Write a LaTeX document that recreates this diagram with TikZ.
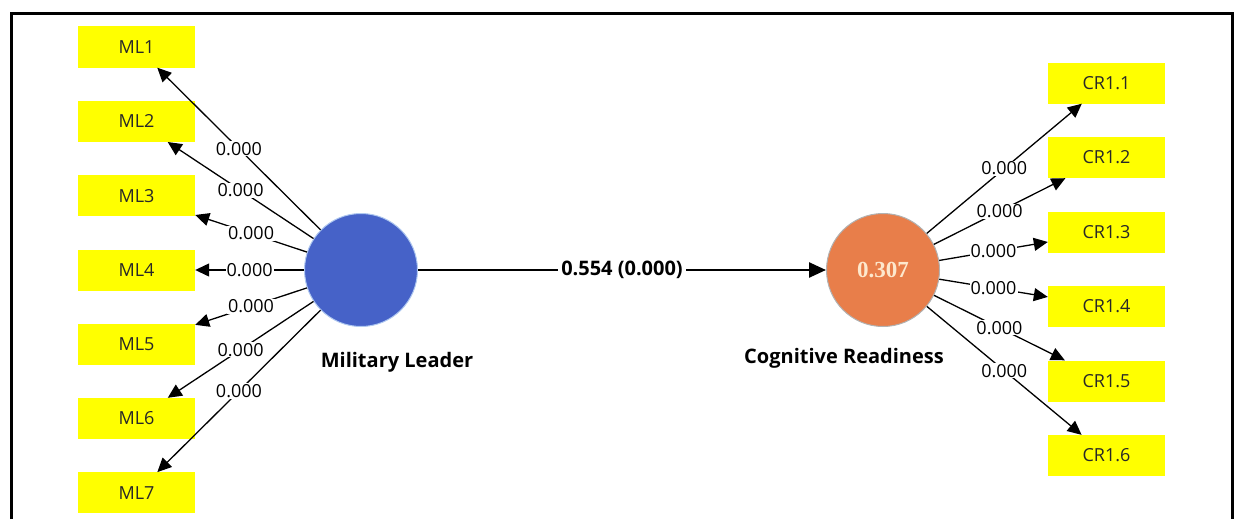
\documentclass[tikz,border=0pt]{standalone}
\usepackage{fontspec}
\setmainfont{Open Sans}
\newfontfamily\cifrafont{Liberation Serif}
\usetikzlibrary{arrows.meta}

\definecolor{azulml}{RGB}{70,98,200}
\definecolor{bordeml}{RGB}{175,200,240}
\definecolor{naranjacr}{RGB}{232,126,74}
\definecolor{amarillo}{RGB}{255,255,0}
\definecolor{crema}{RGB}{253,232,205}
\definecolor{textobox}{RGB}{40,40,40}

\begin{document}
\begin{tikzpicture}[
        x=1pt, y=-1pt,
        indicador/.style={
            rectangle,
            fill=amarillo,
            text=textobox,
            minimum width=117pt,
            minimum height=41pt,
            inner sep=0pt,
            font=\fontsize{18}{21}\selectfont
        },
        constructo/.style={
            circle,
            minimum size=113pt,
            inner sep=0pt,
            line width=1pt
        },
        nombre/.style={
            font=\fontsize{20}{24}\selectfont\bfseries,
            text=black
        },
        carga/.style={
            line width=1.3pt,
            -{Triangle[length=14pt,width=13pt]}
        },
        valor/.style={
            fill=white,
            inner sep=1pt,
            font=\fontsize{18}{21}\selectfont
        }
    ]
    \useasboundingbox (0,0) rectangle (1238,519);

    % Marco
    \draw[line width=3pt] (11,519) -- (11,14) -- (1232,14) -- (1232,519);

    % Constructos
    \node[constructo, fill=azulml, draw=bordeml] (ml) at (361,270) {};
    \node[constructo, fill=naranjacr, draw=gray!60,
          text=crema, font=\cifrafont\fontsize{23}{26}\selectfont\bfseries] (cr) at (883,270) {0.307};
    \node[nombre] (mlname) at (397,362) {Military Leader};
    \node[nombre] (crname) at (844,358) {Cognitive Readiness};

    % Indicadores
    \node[indicador] (ml1) at (136.5,47)    {ML1};
    \node[indicador] (ml2) at (136.5,121.3) {ML2};
    \node[indicador] (ml3) at (136.5,195.6) {ML3};
    \node[indicador] (ml4) at (136.5,270)   {ML4};
    \node[indicador] (ml5) at (136.5,344.2) {ML5};
    \node[indicador] (ml6) at (136.5,418.5) {ML6};
    \node[indicador] (ml7) at (136.5,492.8) {ML7};

    \node[indicador] (cr1) at (1106.5,83)    {CR1.1};
    \node[indicador] (cr2) at (1106.5,157.5) {CR1.2};
    \node[indicador] (cr3) at (1106.5,232)   {CR1.3};
    \node[indicador] (cr4) at (1106.5,306.5) {CR1.4};
    \node[indicador] (cr5) at (1106.5,381)   {CR1.5};
    \node[indicador] (cr6) at (1106.5,455.5) {CR1.6};

    % Cargas
    \draw[carga] (ml) -- node[valor] {0.000} (ml1);
    \draw[carga] (ml) -- node[valor] {0.000} (ml2);
    \draw[carga] (ml) -- node[valor] {0.000} (ml3);
    \draw[carga] (ml) -- node[valor] {0.000} (ml4);
    \draw[carga] (ml) -- node[valor] {0.000} (ml5);
    \draw[carga] (ml) -- node[valor] {0.000} (ml6);
    \draw[carga] (ml) -- node[valor] {0.000} (ml7);

    \draw[carga] (cr) -- node[valor] {0.000} (cr1);
    \draw[carga] (cr) -- node[valor] {0.000} (cr2);
    \draw[carga] (cr) -- node[valor] {0.000} (cr3);
    \draw[carga] (cr) -- node[valor] {0.000} (cr4);
    \draw[carga] (cr) -- node[valor] {0.000} (cr5);
    \draw[carga] (cr) -- node[valor] {0.000} (cr6);

    % Ruta
    \draw[line width=2.5pt, -{Triangle[length=17pt,width=15pt]}] (ml) -- node[valor, inner sep=3pt, font=\fontsize{20}{24}\selectfont\bfseries] {0.554 (0.000)} (cr);

\end{tikzpicture}
\end{document}
